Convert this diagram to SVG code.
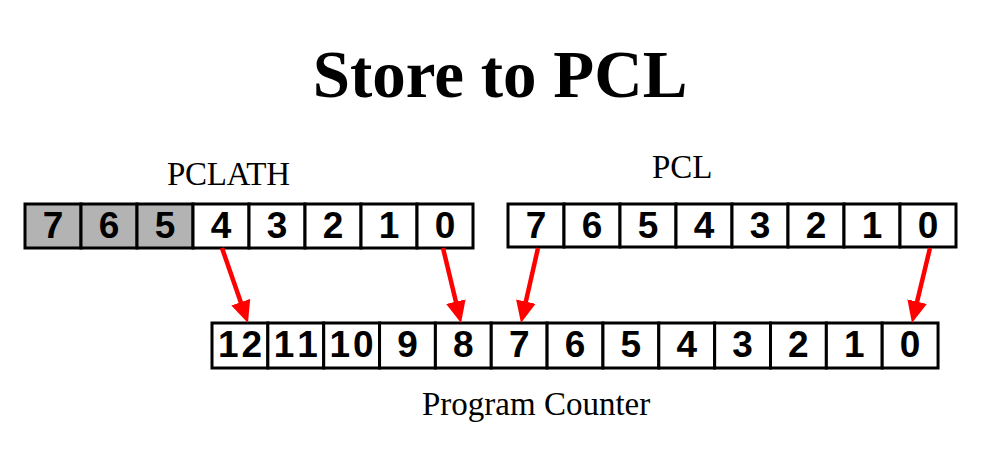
<svg xmlns="http://www.w3.org/2000/svg" width="993" height="465" viewBox="0 0 993 465">
<style>
.cell{fill:#ffffff;stroke:#000000;stroke-width:3}
.gray{fill:#b3b3b3}
.d{font-family:"Liberation Sans",Arial,sans-serif;font-weight:bold;font-size:37px;text-anchor:middle;fill:#000}
.lbl{font-family:"Liberation Serif","Times New Roman",serif;font-size:33px;fill:#000}
.title{font-family:"Liberation Serif","Times New Roman",serif;font-weight:bold;font-size:67px;text-anchor:middle;fill:#000}
.arr{stroke:#ff0000;stroke-width:4.5;fill:none;marker-end:url(#ah)}
</style>
<defs>
<marker id="ah" markerUnits="userSpaceOnUse" markerWidth="24" markerHeight="22" viewBox="0 -11 24 22" refX="12" refY="0" orient="auto">
<path d="M0,-10 L22,0 L0,10 z" fill="#ff0000"/>
</marker>
</defs>
<rect width="993" height="465" fill="#ffffff"/>
<g id="title"><text class="title" x="500" y="97">Store to PCL</text></g>
<g id="pclath">
<text class="lbl" x="167" y="185" font-size="32" textLength="123">PCLATH</text>
<rect class="cell gray" x="25" y="204" width="56" height="44"/>
<rect class="cell gray" x="81" y="204" width="56" height="44"/>
<rect class="cell gray" x="137" y="204" width="56" height="44"/>
<rect class="cell" x="193" y="204" width="56" height="44"/>
<rect class="cell" x="249" y="204" width="56" height="44"/>
<rect class="cell" x="305" y="204" width="56" height="44"/>
<rect class="cell" x="361" y="204" width="56" height="44"/>
<rect class="cell" x="417" y="204" width="56" height="44"/>
<text class="d" x="53" y="238">7</text>
<text class="d" x="109" y="238">6</text>
<text class="d" x="165" y="238">5</text>
<text class="d" x="221" y="238">4</text>
<text class="d" x="277" y="238">3</text>
<text class="d" x="333" y="238">2</text>
<text class="d" x="389" y="238">1</text>
<text class="d" x="445" y="238">0</text>
</g>
<g id="pcl">
<text class="lbl" x="652" y="178" font-size="34">PCL</text>
<rect class="cell" x="508" y="204" width="56" height="43"/>
<rect class="cell" x="564" y="204" width="56" height="43"/>
<rect class="cell" x="620" y="204" width="56" height="43"/>
<rect class="cell" x="676" y="204" width="56" height="43"/>
<rect class="cell" x="732" y="204" width="56" height="43"/>
<rect class="cell" x="788" y="204" width="56" height="43"/>
<rect class="cell" x="844" y="204" width="56" height="43"/>
<rect class="cell" x="900" y="204" width="56" height="43"/>
<text class="d" x="536" y="238">7</text>
<text class="d" x="592" y="238">6</text>
<text class="d" x="648" y="238">5</text>
<text class="d" x="704" y="238">4</text>
<text class="d" x="760" y="238">3</text>
<text class="d" x="816" y="238">2</text>
<text class="d" x="872" y="238">1</text>
<text class="d" x="928" y="238">0</text>
</g>
<g id="pc">
<rect class="cell" x="212" y="323" width="55.85" height="45"/>
<rect class="cell" x="267.85" y="323" width="55.85" height="45"/>
<rect class="cell" x="323.7" y="323" width="55.85" height="45"/>
<rect class="cell" x="379.55" y="323" width="55.85" height="45"/>
<rect class="cell" x="435.4" y="323" width="55.85" height="45"/>
<rect class="cell" x="491.25" y="323" width="55.85" height="45"/>
<rect class="cell" x="547.1" y="323" width="55.85" height="45"/>
<rect class="cell" x="602.95" y="323" width="55.85" height="45"/>
<rect class="cell" x="658.8" y="323" width="55.85" height="45"/>
<rect class="cell" x="714.65" y="323" width="55.85" height="45"/>
<rect class="cell" x="770.5" y="323" width="55.85" height="45"/>
<rect class="cell" x="826.35" y="323" width="55.85" height="45"/>
<rect class="cell" x="882.2" y="323" width="55.85" height="45"/>
<text class="d" x="240" y="357" textLength="44">12</text>
<text class="d" x="295.8" y="357" textLength="44">11</text>
<text class="d" x="351.6" y="357" textLength="44">10</text>
<text class="d" x="407.5" y="357">9</text>
<text class="d" x="463.3" y="357">8</text>
<text class="d" x="519.2" y="357">7</text>
<text class="d" x="575" y="357">6</text>
<text class="d" x="630.9" y="357">5</text>
<text class="d" x="686.7" y="357">4</text>
<text class="d" x="742.6" y="357">3</text>
<text class="d" x="798.4" y="357">2</text>
<text class="d" x="854.3" y="357">1</text>
<text class="d" x="910.1" y="357">0</text>
<text class="lbl" x="422" y="415" font-size="34">Program Counter</text>
</g>
<g id="connectors">
<line class="arr" x1="222" y1="248" x2="244.7" y2="313.5"/>
<line class="arr" x1="443" y1="248" x2="458.7" y2="313.3"/>
<line class="arr" x1="538" y1="248" x2="523.2" y2="313.3"/>
<line class="arr" x1="930" y1="248" x2="914.3" y2="313.3"/>
</g>
</svg>
